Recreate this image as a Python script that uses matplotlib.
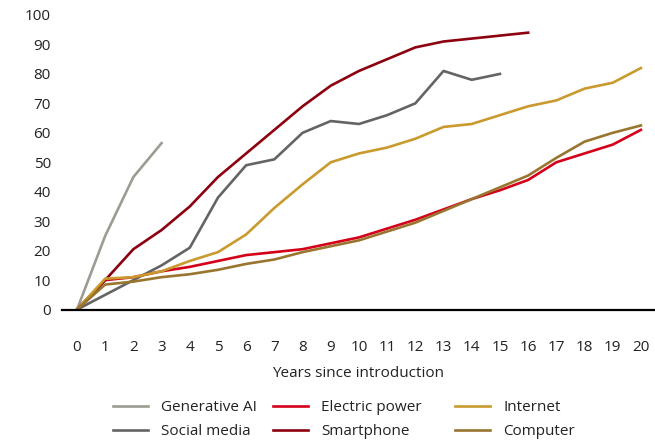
import matplotlib.pyplot as plt

plt.rcParams['font.family'] = ['Open Sans', 'DejaVu Sans']

# adoption share (%) by years since introduction
genai = [0, 25, 45, 56.5]
social = [0, 5, 10, 15, 21, 38, 49, 51, 60, 64, 63, 66, 70, 81, 78, 80]
electric = [0, 10, 11, 13, 14.5, 16.5, 18.5, 19.5, 20.5, 22.5, 24.5, 27.5,
            30.5, 34, 37.5, 40.5, 44, 50, 53, 56, 61]
smartphone = [0, 10, 20.5, 27, 35, 45, 53, 61, 69, 76, 81, 85, 89, 91, 92,
              93, 94]
internet = [0, 10.5, 11, 13, 16.5, 19.5, 25.5, 34.5, 42.5, 50, 53, 55, 58,
            62, 63, 66, 69, 71, 75, 77, 82]
computer = [0, 8.5, 9.5, 11, 12, 13.5, 15.5, 17, 19.5, 21.5, 23.5, 26.5,
            29.5, 33.5, 37.5, 41.5, 45.5, 51.5, 57, 60, 62.5]

series = [
    ('Generative AI', genai, '#9c9c92'),
    ('Social media', social, '#646464'),
    ('Electric power', electric, '#d4001a'),
    ('Smartphone', smartphone, '#8c0010'),
    ('Internet', internet, '#c99a2e'),
    ('Computer', computer, '#9a7530'),
]

fig = plt.figure(figsize=(6.55, 4.41), dpi=100)
ax = fig.add_axes([0.0947, 0.298, 0.9053, 0.668])

lines = []
for name, vals, col in series:
    ln, = ax.plot(range(len(vals)), vals, color=col, lw=1.9, label=name)
    lines.append(ln)

ax.set_xlim(-0.53, 20.5)
ax.set_ylim(0, 100)
ax.set_xticks(range(21))
ax.set_yticks(range(0, 101, 10))
ax.tick_params(length=0, labelsize=11, colors='#222222')
ax.tick_params(axis='x', pad=22)
ax.tick_params(axis='y', pad=8)
for s in ['top', 'right', 'left']:
    ax.spines[s].set_visible(False)
ax.spines['bottom'].set_linewidth(1.6)
ax.spines['bottom'].set_color('black')
ax.set_xlabel('Years since introduction', fontsize=11, color='#222222',
              labelpad=8)

# legend: three columns of two entries
col_x = [113, 273, 455]
for i, x in enumerate(col_x):
    leg = fig.legend(handles=lines[2 * i:2 * i + 2], loc='upper left',
                     bbox_to_anchor=(x / 655, 1 - 400 / 441),
                     bbox_transform=fig.transFigure, frameon=False,
                     fontsize=11, handlelength=2.3, handletextpad=0.85,
                     labelspacing=0.62, borderpad=0, borderaxespad=0)
    for t in leg.get_texts():
        t.set_color('#222222')

fig.savefig('out.png', dpi=100)
